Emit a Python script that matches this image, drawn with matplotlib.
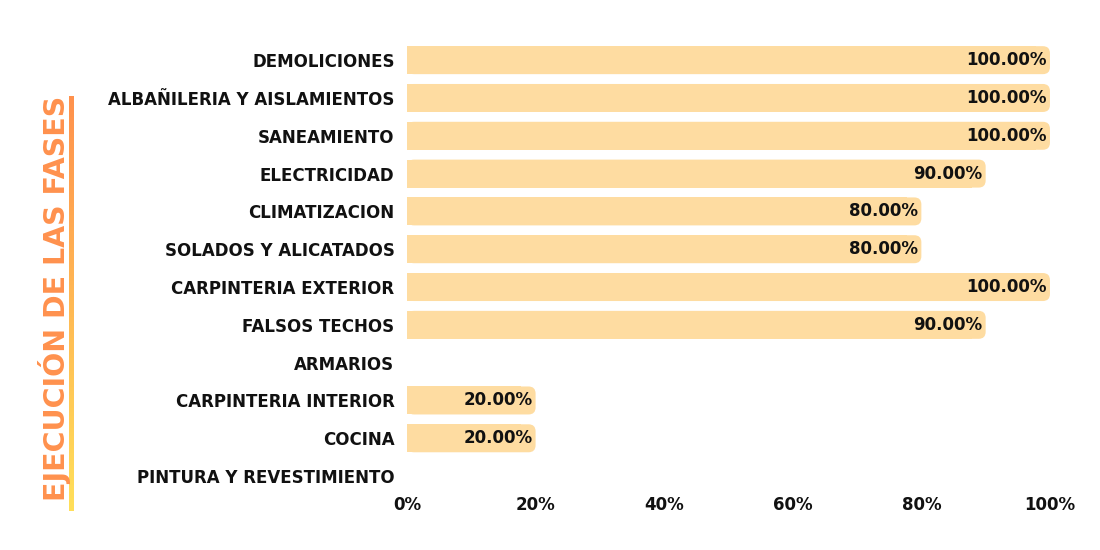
import matplotlib
matplotlib.use("Agg")
import matplotlib.pyplot as plt
from matplotlib.patches import FancyBboxPatch
from matplotlib.collections import LineCollection
import numpy as np

# fases de obra y porcentaje ejecutado
fases = [
    "DEMOLICIONES",
    "ALBAÑILERIA Y AISLAMIENTOS",
    "SANEAMIENTO",
    "ELECTRICIDAD",
    "CLIMATIZACION",
    "SOLADOS Y ALICATADOS",
    "CARPINTERIA EXTERIOR",
    "FALSOS TECHOS",
    "ARMARIOS",
    "CARPINTERIA INTERIOR",
    "COCINA",
    "PINTURA Y REVESTIMIENTO",
]
avance = [100, 100, 100, 90, 80, 80, 100, 90, 0, 20, 20, 0]
xticks = [0, 20, 40, 60, 80, 100]

BAR_COLOR = "#FEDCA1"
TITLE_COLOR = "#FF914D"
FONT = "DejaVu Sans"
FS = 12

fig = plt.figure(figsize=(11, 5.5), dpi=100)
ax = fig.add_axes([0.37, 0.10, 0.5845, 0.825])

y = np.arange(len(fases))
h = 0.74
rad = 1.1  # rounding in x units
asp = (1 / 37.8) / (100 / 643)  # correct corner shape for unequal scales

for yi, v in zip(y, avance):
    if v <= 0:
        continue
    # square left part
    ax.barh(yi, v - 2 * rad, height=h, color=BAR_COLOR, left=0, linewidth=0)
    # rounded right end
    p = FancyBboxPatch((0, yi - h / 2), v, h,
                       boxstyle="round,pad=0,rounding_size=%f" % rad,
                       mutation_aspect=asp, facecolor=BAR_COLOR,
                       edgecolor="none")
    ax.add_patch(p)
    ax.text(v - 0.5, yi, "%.2f%%" % v, ha="right", va="center",
            fontsize=FS, fontweight="bold", family=FONT, color="#111111")

ax.set_xlim(0, 100)
ax.set_ylim(len(fases) - 0.5, -0.5)
ax.set_yticks(y)
ax.set_yticklabels(fases, fontsize=FS, fontweight="bold", family=FONT,
                   color="#111111")
ax.set_xticks(xticks)
ax.set_xticklabels(["%d%%" % t for t in xticks], fontsize=FS,
                   fontweight="bold", family=FONT, color="#111111")
ax.tick_params(axis="y", length=0, pad=9)
ax.tick_params(axis="x", length=0, pad=1)
for s in ax.spines.values():
    s.set_visible(False)

# titulo vertical
fig.text(0.05, 0.457, "EJECUCIÓN DE LAS FASES", rotation=90, ha="center",
         va="center", fontsize=20.5, fontweight="bold", family=FONT,
         color=TITLE_COLOR)

# linea con degradado naranja -> amarillo
n = 100
ys = np.linspace(1 - 98 / 550, 1 - 508 / 550, n + 1)
xs = np.full_like(ys, 71 / 1100)
pts = np.column_stack([xs, ys]).reshape(-1, 1, 2)
segs = np.concatenate([pts[:-1], pts[1:]], axis=1)
c0 = np.array(matplotlib.colors.to_rgb("#FF914D"))
c1 = np.array(matplotlib.colors.to_rgb("#FFDE59"))
cols = [c0 + (c1 - c0) * t for t in np.linspace(0, 1, n)]
lc = LineCollection(segs, colors=cols, linewidths=3.5, capstyle="projecting",
                    antialiased=False, transform=fig.transFigure)
fig.add_artist(lc)

fig.savefig("out.png", dpi=100, facecolor="white")
